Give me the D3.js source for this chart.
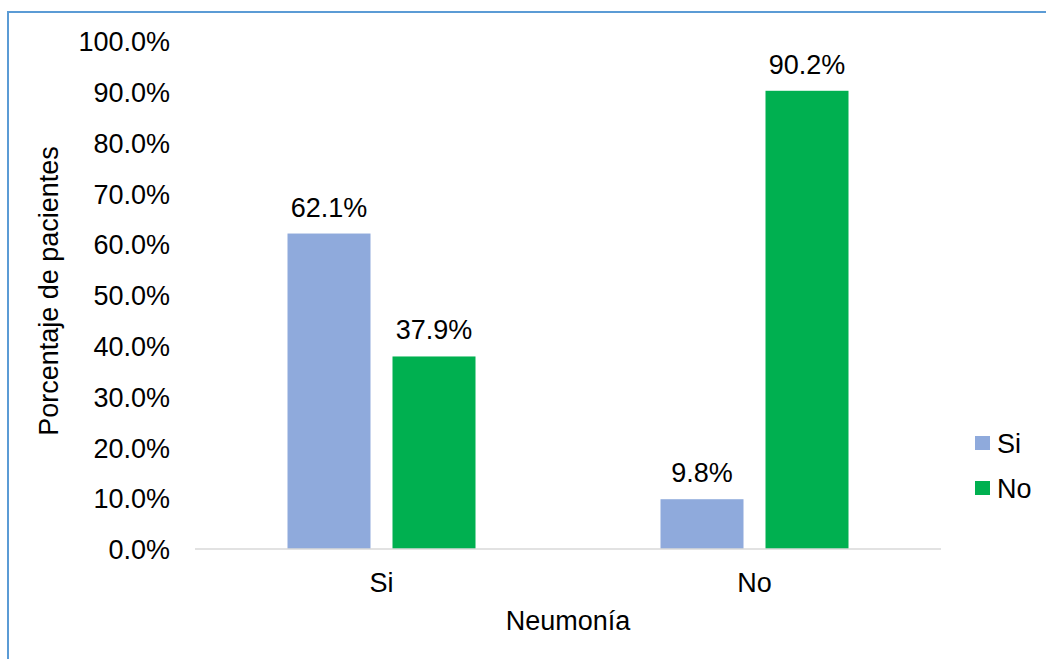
<!DOCTYPE html>
<html>
<head>
<meta charset="utf-8">
<script src="https://cdn.jsdelivr.net/npm/d3@7"></script>
<style>
  html, body { margin: 0; padding: 0; background: #fff; }
  svg { display: block; font-family: "Liberation Sans", Arial, sans-serif; }
</style>
</head>
<body>
<svg id="chart" width="1046" height="659"></svg>
<script>
// Neumonía (Si / No) vs. outcome series (Si / No), percentage of patients
const categories = ["Si", "No"];
const seriesNames = ["Si", "No"];
const seriesSi = [62.1, 9.8];
const seriesNo = [37.9, 90.2];
const yTicks = [0, 10, 20, 30, 40, 50, 60, 70, 80, 90, 100];
const colors = ["#8faadc", "#00b050"];

const svg = d3.select("#chart");
const W = 1046, H = 659;
const plot = { left: 195, right: 941, top: 41, bottom: 549 };
const fontSize = 27;

// outer frame
svg.append("rect")
  .attr("x", 8).attr("y", 12)
  .attr("width", W + 20).attr("height", H + 20)
  .attr("fill", "none")
  .attr("stroke", "#5b9bd5")
  .attr("stroke-width", 2);

const x0 = d3.scaleBand().domain(categories).range([plot.left, plot.right]).padding(0);
const y = d3.scaleLinear().domain([0, 100]).range([plot.bottom, plot.top]);

const barW = 83, gap = 22;
const x1 = d3.scaleOrdinal().domain(seriesNames)
  .range([-(gap / 2) - barW, gap / 2]);

const data = categories.map((c, i) => ({
  cat: c,
  values: [
    { s: seriesNames[0], v: seriesSi[i] },
    { s: seriesNames[1], v: seriesNo[i] }
  ]
}));

// y axis tick labels
const yAxis = d3.axisLeft(y).tickValues(yTicks).tickSize(0).tickPadding(0)
  .tickFormat(d => d.toFixed(1) + "%");
const gy = svg.append("g").attr("transform", `translate(170,0)`).call(yAxis);
gy.select(".domain").remove();
gy.selectAll("text")
  .attr("font-size", fontSize)
  .attr("font-family", "Liberation Sans, Arial, sans-serif")
  .attr("fill", "#000")
  .attr("dy", "0.36em");

// bars
const groups = svg.append("g").selectAll("g").data(data).join("g")
  .attr("transform", d => `translate(${x0(d.cat) + x0.bandwidth() / 2},0)`);

groups.selectAll("rect").data(d => d.values).join("rect")
  .attr("x", d => x1(d.s))
  .attr("y", d => y(d.v))
  .attr("width", barW)
  .attr("height", d => y(0) - y(d.v))
  .attr("fill", (d, i) => colors[i]);

groups.selectAll("text.val").data(d => d.values).join("text")
  .attr("class", "val")
  .attr("x", d => x1(d.s) + barW / 2)
  .attr("y", d => y(d.v) - 17)
  .attr("text-anchor", "middle")
  .attr("font-size", fontSize)
  .attr("fill", "#000")
  .text(d => d.v.toFixed(1) + "%");

// x axis baseline and category labels
svg.append("line")
  .attr("x1", plot.left).attr("x2", plot.right)
  .attr("y1", y(0)).attr("y2", y(0))
  .attr("stroke", "#d9d9d9").attr("stroke-width", 1.5);

const xAxis = d3.axisBottom(x0).tickSize(0).tickPadding(0);
const gx = svg.append("g").attr("transform", `translate(0,${plot.bottom})`).call(xAxis);
gx.select(".domain").remove();
gx.selectAll("text")
  .attr("font-size", fontSize)
  .attr("font-family", "Liberation Sans, Arial, sans-serif")
  .attr("fill", "#000")
  .attr("dy", null)
  .attr("y", 43);

// axis titles
svg.append("text")
  .attr("x", (plot.left + plot.right) / 2)
  .attr("y", 630)
  .attr("text-anchor", "middle")
  .attr("font-size", fontSize)
  .text("Neumonía");

svg.append("text")
  .attr("transform", "translate(58,291) rotate(-90)")
  .attr("text-anchor", "middle")
  .attr("font-size", fontSize)
  .text("Porcentaje de pacientes");

// legend
const legend = svg.append("g").selectAll("g").data(seriesNames).join("g")
  .attr("transform", (d, i) => `translate(975,${443 + i * 45})`);
legend.append("rect")
  .attr("x", 0).attr("y", -7)
  .attr("width", 15).attr("height", 14)
  .attr("fill", (d, i) => colors[i]);
legend.append("text")
  .attr("x", 22).attr("y", 0).attr("dy", "0.36em")
  .attr("font-size", fontSize)
  .text(d => d);
</script>
</body>
</html>
